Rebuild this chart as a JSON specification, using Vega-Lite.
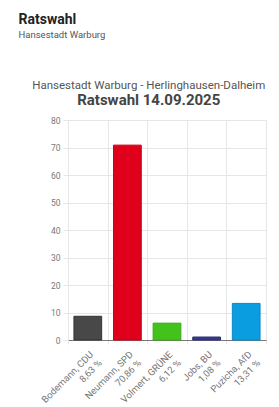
{
  "$schema": "https://vega.github.io/schema/vega-lite/v6.json",
  "background": "white",
  "padding": {"left": 18, "top": 12, "right": 6, "bottom": 0},
  "config": {"font": "Roboto", "view": {"stroke": "#e6e6e6"}},
  "title": {
    "text": "Ratswahl",
    "subtitle": "Hansestadt Warburg",
    "anchor": "start",
    "frame": "bounds",
    "font": "Roboto",
    "fontSize": 14,
    "fontWeight": "bold",
    "color": "#222222",
    "subtitleFont": "Roboto",
    "subtitleFontSize": 9.5,
    "subtitleColor": "#555555",
    "subtitlePadding": 3,
    "offset": 40
  },
  "vconcat": [
    {
      "width": 198,
      "height": 220,
      "title": {
        "text": "Hansestadt Warburg - Herlinghausen-Dalheim",
        "subtitle": "Ratswahl 14.09.2025",
        "anchor": "middle",
        "frame": "bounds",
        "dx": 6,
        "font": "Roboto",
        "fontSize": 11.5,
        "fontWeight": "normal",
        "color": "#555555",
        "subtitleFont": "Roboto",
        "subtitleFontSize": 15,
        "subtitleFontWeight": "bold",
        "subtitleColor": "#444444",
        "subtitlePadding": 2,
        "offset": 8
      },
      "data": {
        "values": [
          {"kandidat": "Bodemann, CDU", "prozent_text": "8,63 %", "partei": "CDU", "prozent": 8.63},
          {"kandidat": "Neumann, SPD", "prozent_text": "70,86 %", "partei": "SPD", "prozent": 70.86},
          {"kandidat": "Volmert, GRÜNE", "prozent_text": "6,12 %", "partei": "GRÜNE", "prozent": 6.12},
          {"kandidat": "Jobs, BU", "prozent_text": "1,08 %", "partei": "BU", "prozent": 1.08},
          {"kandidat": "Puzicha, AfD", "prozent_text": "13,31 %", "partei": "AfD", "prozent": 13.31}
        ]
      },
      "transform": [
        {"calculate": "datum.kandidat + '|' + datum.prozent_text", "as": "beschriftung"}
      ],
      "mark": {"type": "bar", "width": {"band": 0.7}, "strokeWidth": 1},
      "encoding": {
        "x": {
          "field": "beschriftung",
          "type": "nominal",
          "sort": null,
          "scale": {"paddingInner": 0, "paddingOuter": 0},
          "axis": {
            "title": null,
            "tickBand": "extent",
            "labelAngle": -45,
            "labelAlign": "right",
            "labelBaseline": "top",
            "labelExpr": "datum.value ? split(datum.value, '|') : ''",
            "labelFontSize": 9.5,
            "labelColor": "#777777",
            "labelLineHeight": 12,
            "labelPadding": 5,
            "domainColor": "#777777",
            "domainWidth": 1,
            "ticks": true,
            "tickSize": 4,
            "tickColor": "#e6e6e6",
            "grid": true,
            "gridColor": "#e6e6e6"
          }
        },
        "y": {
          "field": "prozent",
          "type": "quantitative",
          "scale": {"domain": [0, 80], "nice": false},
          "axis": {
            "title": null,
            "values": [0, 10, 20, 30, 40, 50, 60, 70, 80],
            "minExtent": 49,
            "labelFontSize": 8.5,
            "labelColor": "#777777",
            "labelPadding": 3,
            "tickSize": 5,
            "tickColor": "#e6e6e6",
            "domainColor": "#e6e6e6",
            "gridColor": "#e6e6e6"
          }
        },
        "color": {
          "field": "partei",
          "type": "nominal",
          "legend": null,
          "scale": {
            "domain": ["CDU", "SPD", "GRÜNE", "BU", "AfD"],
            "range": ["#484848", "#e0001b", "#44c21c", "#3a3a8a", "#0a9ee0"]
          }
        },
        "stroke": {
          "field": "partei",
          "type": "nominal",
          "legend": null,
          "scale": {
            "domain": ["CDU", "SPD", "GRÜNE", "BU", "AfD"],
            "range": ["#333333", "#c00017", "#38a816", "#2c2c70", "#0888c4"]
          }
        }
      }
    }
  ]
}
